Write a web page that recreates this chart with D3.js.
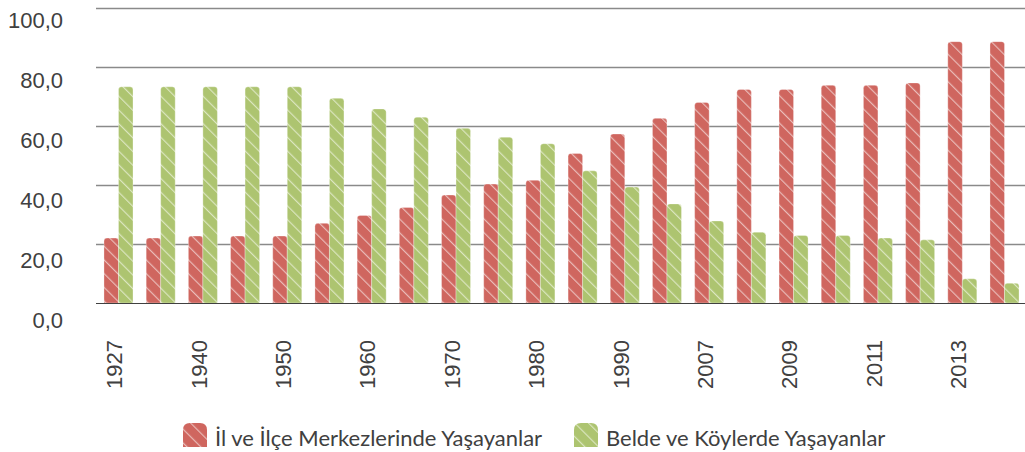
<!DOCTYPE html>
<html lang="tr">
<head>
<meta charset="utf-8">
<script src="https://cdn.jsdelivr.net/npm/d3@7"></script>
<style>
  html, body { margin: 0; padding: 0; background: #fff; }
  svg { display: block; font-family: Lato, "Open Sans", sans-serif; }
  .axis text { fill: #404040; font-size: 22px; }
  .legend text { fill: #404040; font-size: 22px; }
</style>
</head>
<body>
<svg id="chart" width="1025" height="452"></svg>
<script>
// Census years
const years = ["1927", "1935", "1940", "1945", "1950", "1955", "1960", "1965", "1970", "1975", "1980",
               "1985", "1990", "2000", "2007", "2008", "2009", "2010", "2011", "2012", "2013", "2014"];

// Share of population living in province and district centres (%)
const merkez = [22.0, 22.0, 22.7, 22.7, 22.7, 27.0, 29.7, 32.4, 36.6, 40.3, 41.6,
                50.7, 57.3, 62.6, 68.0, 72.4, 72.4, 73.8, 73.8, 74.6, 88.6, 88.6];

// Share of population living in towns and villages (%)
const koy = [73.3, 73.3, 73.3, 73.3, 73.3, 69.4, 65.8, 63.0, 59.2, 56.2, 54.0,
             44.8, 39.3, 33.6, 27.8, 24.0, 22.9, 22.9, 22.0, 21.4, 8.2, 6.7];

const seriesNames = ["İl ve İlçe Merkezlerinde Yaşayanlar", "Belde ve Köylerde Yaşayanlar"];
const yTicks = [0, 20, 40, 60, 80, 100];
const xTickLabels = ["1927", "1940", "1950", "1960", "1970", "1980", "1990", "2007", "2009", "2011", "2013"];

const colors = ["#CF665F", "#ADC470"];

const svg = d3.select("#chart");

const x = d3.scaleBand().domain(years).range([97.4, 1025.6]).paddingInner(0.312).paddingOuter(0.156);
const xs = d3.scaleBand().domain([0, 1]).range([0, x.bandwidth()]);
const y = d3.scaleLinear().domain([0, 100]).range([303, 8]);
const yLabel = d3.scaleLinear().domain([0, 100]).range([320, 20]);

const trFormat = d3.formatLocale({ decimal: ",", thousands: ".", grouping: [3], currency: ["", "₺"] }).format(".1f");

// Diagonal hatch patterns
const defs = svg.append("defs");
colors.forEach((c, i) => {
  const p = defs.append("pattern")
    .attr("id", "hatch" + i)
    .attr("patternUnits", "userSpaceOnUse")
    .attr("width", 9.7).attr("height", 9.7)
    .attr("patternTransform", "rotate(-45)");
  p.append("rect").attr("width", 9.7).attr("height", 9.7).attr("fill", c);
  p.append("line")
    .attr("x1", 0.6).attr("y1", 0).attr("x2", 0.6).attr("y2", 9.7)
    .attr("stroke", "#fff").attr("stroke-opacity", 0.6).attr("stroke-width", 1.1);
});

// Gridlines
svg.append("g")
  .selectAll("line")
  .data(yTicks.filter(d => d > 0))
  .join("line")
  .attr("x1", 96).attr("x2", 1025)
  .attr("y1", d => Math.round(y(d)) + 0.5).attr("y2", d => Math.round(y(d)) + 0.5)
  .attr("stroke", "#8a8a8a").attr("stroke-width", 1.5);

// Bars with rounded top corners
function barPath(x0, w, yTop, yBase, r) {
  r = Math.min(r, w / 2, (yBase - yTop));
  return `M${x0},${yBase}V${yTop + r}Q${x0},${yTop} ${x0 + r},${yTop}H${x0 + w - r}Q${x0 + w},${yTop} ${x0 + w},${yTop + r}V${yBase}Z`;
}

const rows = years.map((yr, i) => ({ year: yr, values: [merkez[i], koy[i]] }));

const groups = svg.append("g")
  .selectAll("g")
  .data(rows)
  .join("g")
  .attr("transform", d => `translate(${x(d.year)},0)`);

groups.selectAll("path")
  .data(d => d.values.map((v, k) => ({ k, v })))
  .join("path")
  .attr("d", d => barPath(xs(d.k), xs.bandwidth(), y(d.v), y(0), 3))
  .attr("fill", d => `url(#hatch${d.k})`)
  .attr("stroke", "#fff").attr("stroke-opacity", 0.3).attr("stroke-width", 1);

// Baseline
svg.append("line")
  .attr("x1", 96).attr("x2", 1025)
  .attr("y1", Math.round(y(0)) + 0.5).attr("y2", Math.round(y(0)) + 0.5)
  .attr("stroke", "#404040").attr("stroke-width", 1.2);

// Y axis labels
const yAxis = svg.append("g")
  .attr("class", "axis")
  .attr("transform", "translate(66,0)")
  .call(d3.axisLeft(yLabel).tickValues(yTicks).tickSize(0).tickPadding(3).tickFormat(trFormat));
yAxis.select(".domain").remove();
yAxis.selectAll("text").attr("font-size", 22).attr("font-family", null).attr("fill", "#404040");

// X axis labels (rotated)
const xAxis = svg.append("g")
  .attr("class", "axis")
  .attr("transform", `translate(0,${y(0)})`)
  .call(d3.axisBottom(x).tickValues(xTickLabels).tickSize(0));
xAxis.select(".domain").remove();
xAxis.selectAll("text")
  .attr("font-size", 22).attr("font-family", null).attr("fill", "#404040")
  .attr("transform", "rotate(-90)")
  .attr("text-anchor", "end")
  .attr("x", -37).attr("y", 0).attr("dy", "0.17em");

// Legend
function swatchPath(x0, y0, s, r) {
  return `M${x0},${y0 + s}V${y0 + r}Q${x0},${y0} ${x0 + r},${y0}H${x0 + s - r}Q${x0 + s},${y0} ${x0 + s},${y0 + r}V${y0 + s}Z`;
}
const legendX = [183, 574];
const legend = svg.append("g").attr("class", "legend");
seriesNames.forEach((name, i) => {
  legend.append("path")
    .attr("d", swatchPath(legendX[i], 423, 24, 7))
    .attr("fill", `url(#hatch${i})`);
  legend.append("text")
    .attr("x", legendX[i] + 32).attr("y", 446)
    .text(name);
});
</script>
</body>
</html>
